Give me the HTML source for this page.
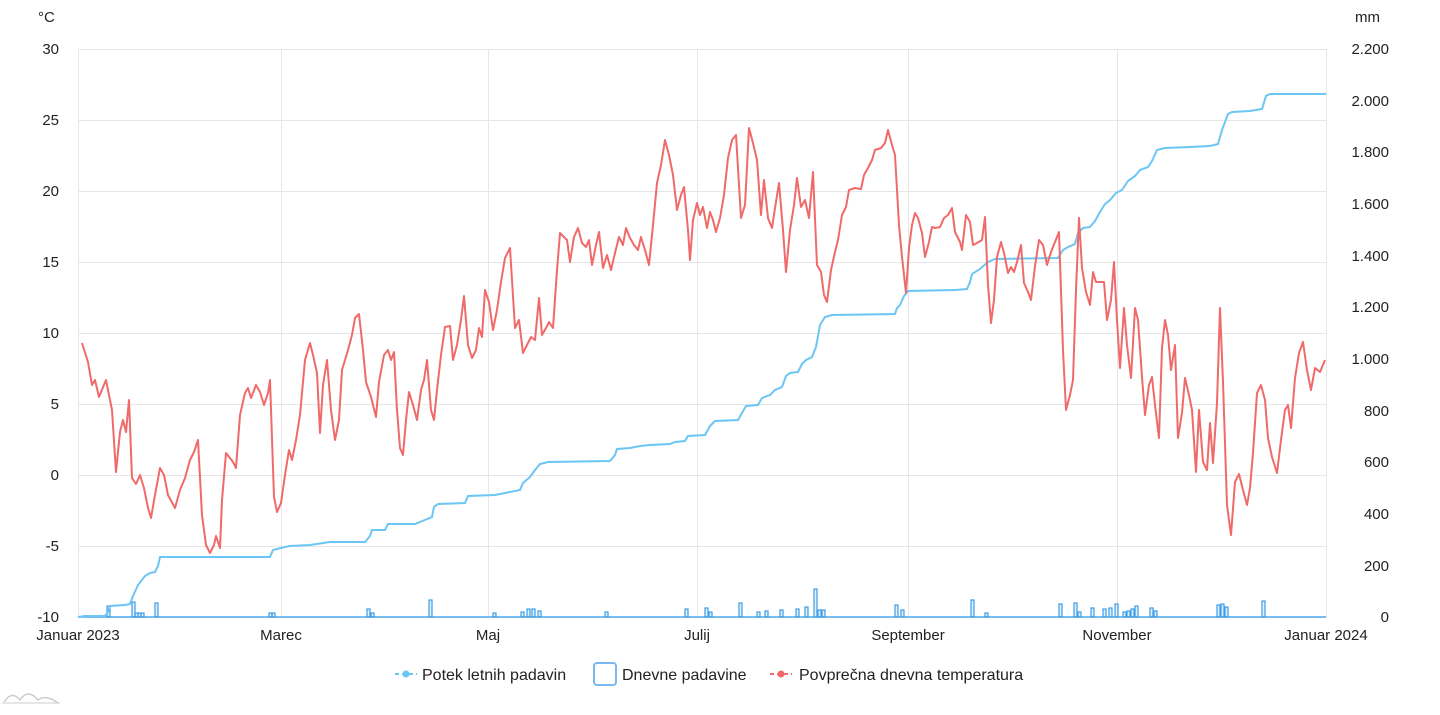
<!DOCTYPE html>
<html><head><meta charset="utf-8"><style>
body{margin:0;background:#fff;width:1440px;height:710px;overflow:hidden;font-family:"Liberation Sans",sans-serif;}
svg text{font-family:"Liberation Sans",sans-serif;font-size:15px;fill:#222;}
svg text.lg{font-size:16px;}
</style></head><body>
<svg width="1440" height="710" xmlns="http://www.w3.org/2000/svg">
<g stroke="#e6e6e6" stroke-width="1">
<line x1="78" y1="49.5" x2="1326" y2="49.5"/><line x1="78" y1="120.5" x2="1326" y2="120.5"/><line x1="78" y1="191.5" x2="1326" y2="191.5"/><line x1="78" y1="262.5" x2="1326" y2="262.5"/><line x1="78" y1="333.5" x2="1326" y2="333.5"/><line x1="78" y1="404.5" x2="1326" y2="404.5"/><line x1="78" y1="475.5" x2="1326" y2="475.5"/><line x1="78" y1="546.5" x2="1326" y2="546.5"/>
<line x1="78.5" y1="49" x2="78.5" y2="617"/><line x1="281.5" y1="49" x2="281.5" y2="617"/><line x1="488.5" y1="49" x2="488.5" y2="617"/><line x1="697.5" y1="49" x2="697.5" y2="617"/><line x1="908.5" y1="49" x2="908.5" y2="617"/><line x1="1117.5" y1="49" x2="1117.5" y2="617"/><line x1="1326.5" y1="49" x2="1326.5" y2="617"/>
</g>
<g text-anchor="end"><text x="59" y="54">30</text><text x="59" y="125">25</text><text x="59" y="196">20</text><text x="59" y="267">15</text><text x="59" y="338">10</text><text x="59" y="409">5</text><text x="59" y="480">0</text><text x="59" y="551">-5</text><text x="59" y="622">-10</text></g>
<text x="38" y="22">°C</text><text x="1355" y="22">mm</text>
<g text-anchor="end"><text x="1389" y="54">2.200</text><text x="1389" y="106">2.000</text><text x="1389" y="157">1.800</text><text x="1389" y="209">1.600</text><text x="1389" y="261">1.400</text><text x="1389" y="312">1.200</text><text x="1389" y="364">1.000</text><text x="1389" y="416">800</text><text x="1389" y="467">600</text><text x="1389" y="519">400</text><text x="1389" y="571">200</text><text x="1389" y="622">0</text></g>
<g text-anchor="middle"><text x="78" y="640">Januar 2023</text><text x="281" y="640">Marec</text><text x="488" y="640">Maj</text><text x="697" y="640">Julij</text><text x="908" y="640">September</text><text x="1117" y="640">November</text><text x="1326" y="640">Januar 2024</text></g>
<line x1="78" y1="617" x2="1326" y2="617" stroke="#4aa8e8" stroke-width="1.5"/>
<g fill="rgba(100,180,240,0.2)" stroke="#3c9de6" stroke-width="1.2">
<rect x="107" y="606" width="3" height="11"/><rect x="132" y="602" width="3" height="15"/><rect x="135" y="613" width="3" height="4"/><rect x="138" y="613" width="3" height="4"/><rect x="141" y="613" width="3" height="4"/><rect x="155" y="603" width="3" height="14"/><rect x="269" y="613" width="3" height="4"/><rect x="272" y="613" width="3" height="4"/><rect x="367" y="609" width="3" height="8"/><rect x="371" y="613" width="3" height="4"/><rect x="429" y="600" width="3" height="17"/><rect x="493" y="613" width="3" height="4"/><rect x="521" y="612" width="3" height="5"/><rect x="527" y="609" width="3" height="8"/><rect x="532" y="609" width="3" height="8"/><rect x="538" y="611" width="3" height="6"/><rect x="605" y="612" width="3" height="5"/><rect x="685" y="609" width="3" height="8"/><rect x="705" y="608" width="3" height="9"/><rect x="709" y="612" width="3" height="5"/><rect x="739" y="603" width="3" height="14"/><rect x="757" y="612" width="3" height="5"/><rect x="765" y="611" width="3" height="6"/><rect x="780" y="610" width="3" height="7"/><rect x="796" y="609" width="3" height="8"/><rect x="805" y="607" width="3" height="10"/><rect x="814" y="589" width="3" height="28"/><rect x="818" y="610" width="3" height="7"/><rect x="822" y="610" width="3" height="7"/><rect x="895" y="605" width="3" height="12"/><rect x="901" y="610" width="3" height="7"/><rect x="971" y="600" width="3" height="17"/><rect x="985" y="613" width="3" height="4"/><rect x="1059" y="604" width="3" height="13"/><rect x="1074" y="603" width="3" height="14"/><rect x="1078" y="612" width="3" height="5"/><rect x="1091" y="608" width="3" height="9"/><rect x="1103" y="609" width="3" height="8"/><rect x="1109" y="608" width="3" height="9"/><rect x="1115" y="604" width="3" height="13"/><rect x="1123" y="612" width="3" height="5"/><rect x="1127" y="611" width="3" height="6"/><rect x="1131" y="609" width="3" height="8"/><rect x="1135" y="606" width="3" height="11"/><rect x="1150" y="608" width="3" height="9"/><rect x="1154" y="611" width="3" height="6"/><rect x="1217" y="605" width="3" height="12"/><rect x="1221" y="604" width="3" height="13"/><rect x="1225" y="607" width="3" height="10"/><rect x="1262" y="601" width="3" height="16"/>
</g>
<polyline fill="none" stroke="#6cc6f5" stroke-width="2" points="78,617 85,616 105,616 108,612 110,606 125,605 130,604 133,596 138,585 145,576 150,573 155,572 158,566 160,557 270,557 273,550 285,547 290,546 310,545 330,542 365,542 370,536 372,530 385,530 388,524 415,524 420,522 432,517 434,507 438,504 465,503 468,496 495,495 520,490 523,483 530,477 535,470 540,464 548,462 610,461 615,455 617,449 630,448 640,446 650,445 670,444 675,442 685,441 688,436 705,435 710,426 715,421 738,420 742,413 746,406 758,405 762,398 770,395 775,390 782,387 786,376 790,373 798,372 802,364 806,360 812,357 816,347 820,325 825,317 832,315 895,314 897,308 900,305 904,296 908,291 955,290 967,289 970,282 972,274 980,269 988,262 995,259 1058,258 1063,250 1068,247 1075,244 1078,233 1083,228 1090,227 1095,221 1100,212 1105,204 1110,200 1116,193 1122,190 1128,181 1135,176 1140,170 1148,167 1152,161 1157,150 1165,148 1190,147 1210,146 1218,144 1222,130 1225,122 1228,114 1232,112 1250,111 1262,109 1266,96 1270,94 1326,94"/>
<polyline fill="none" stroke="#f06a6a" stroke-width="2" stroke-linejoin="round" points="82,343 88,362 92,385 95,380 99,397 106,380 112,410 116,472 120,432 123,420 126,432 129,400 132,478 136,484 140,475 144,488 148,508 151,518 155,495 160,468 164,475 168,495 175,508 180,490 185,478 190,460 194,452 198,440 202,515 206,545 210,553 214,545 216,536 220,548 222,500 226,453 233,462 236,468 240,415 245,393 248,388 251,398 256,385 260,392 264,405 268,393 270,380 274,497 277,512 281,503 285,475 289,450 292,460 296,440 300,415 305,360 310,343 313,355 317,373 320,433 323,385 327,360 331,410 335,440 339,420 342,370 348,350 352,335 355,318 359,314 363,350 366,382 371,397 376,417 379,382 384,355 388,350 391,360 394,352 397,410 400,448 403,455 406,420 409,392 413,405 417,420 421,390 424,380 427,360 431,410 434,420 437,390 441,355 445,327 450,326 453,360 457,345 461,320 464,296 468,345 472,358 476,350 479,328 482,337 485,290 489,302 493,330 497,310 501,282 505,258 510,248 515,328 519,320 523,353 527,345 531,337 535,340 539,298 542,335 546,328 549,322 553,328 557,270 560,233 564,237 567,240 570,262 574,237 578,228 582,243 586,247 589,240 592,265 596,245 599,232 603,268 607,255 611,270 615,253 619,237 623,245 626,228 630,238 634,245 638,250 641,237 645,250 649,265 653,225 657,183 661,165 665,140 669,155 673,175 677,210 681,195 684,187 688,230 690,260 693,220 697,203 700,215 703,207 707,228 710,212 713,220 716,232 720,218 724,195 728,158 732,140 736,135 741,218 745,205 749,128 753,143 757,160 761,215 764,180 768,218 772,228 775,208 779,183 783,230 786,272 790,230 794,205 797,178 801,207 805,200 809,218 813,172 817,265 821,272 824,295 827,302 831,270 835,252 838,240 842,215 846,207 849,190 855,188 861,189 864,175 868,168 872,160 875,150 881,148 885,143 888,130 892,145 895,155 899,225 902,257 906,293 909,248 912,225 915,213 918,218 922,233 925,257 929,242 932,227 935,228 940,227 944,218 948,215 952,208 955,232 960,242 962,250 966,215 970,222 973,245 977,243 982,240 985,217 988,285 991,323 994,300 997,257 1001,242 1004,253 1008,273 1011,267 1014,272 1017,262 1021,245 1024,283 1028,292 1031,300 1035,266 1039,240 1043,245 1047,265 1051,252 1055,242 1059,232 1063,350 1066,410 1070,395 1073,380 1076,290 1079,218 1082,268 1086,292 1090,305 1093,272 1096,282 1100,282 1104,282 1107,320 1111,300 1114,262 1117,320 1120,368 1124,308 1127,345 1131,378 1135,308 1138,320 1142,377 1145,415 1149,385 1152,377 1155,405 1159,438 1162,348 1165,320 1168,335 1171,370 1175,345 1178,438 1182,413 1185,378 1189,395 1192,410 1196,472 1199,410 1203,462 1207,470 1210,423 1213,463 1217,403 1220,308 1223,382 1227,505 1231,535 1235,482 1239,474 1243,490 1247,505 1250,488 1253,453 1257,393 1261,385 1265,400 1268,438 1272,457 1277,473 1281,440 1285,410 1288,405 1291,428 1295,378 1299,353 1303,342 1307,370 1311,390 1315,368 1320,372 1325,360"/>
<line x1="395" y1="674" x2="417" y2="674" stroke="#6cc6f5" stroke-width="2" stroke-dasharray="4,3"/><circle cx="406" cy="674" r="3.5" fill="#6cc6f5"/>
<text class="lg" x="422" y="680">Potek letnih padavin</text>
<rect x="594" y="663" width="22" height="22" rx="3" fill="#fff" stroke="#7ab8ee" stroke-width="2"/>
<text class="lg" x="622" y="680">Dnevne padavine</text>
<line x1="770" y1="674" x2="792" y2="674" stroke="#f06a6a" stroke-width="2" stroke-dasharray="4,3"/><circle cx="781" cy="674" r="3.5" fill="#f06a6a"/>
<text class="lg" x="799" y="680">Povprečna dnevna temperatura</text>
<path d="M4,702 Q12,690 20,700 Q28,688 38,700 Q46,694 58,703" fill="none" stroke="#ccc" stroke-width="1.5"/>
<line x1="2" y1="703" x2="60" y2="703" stroke="#ccc"/>
</svg>
</body></html>
